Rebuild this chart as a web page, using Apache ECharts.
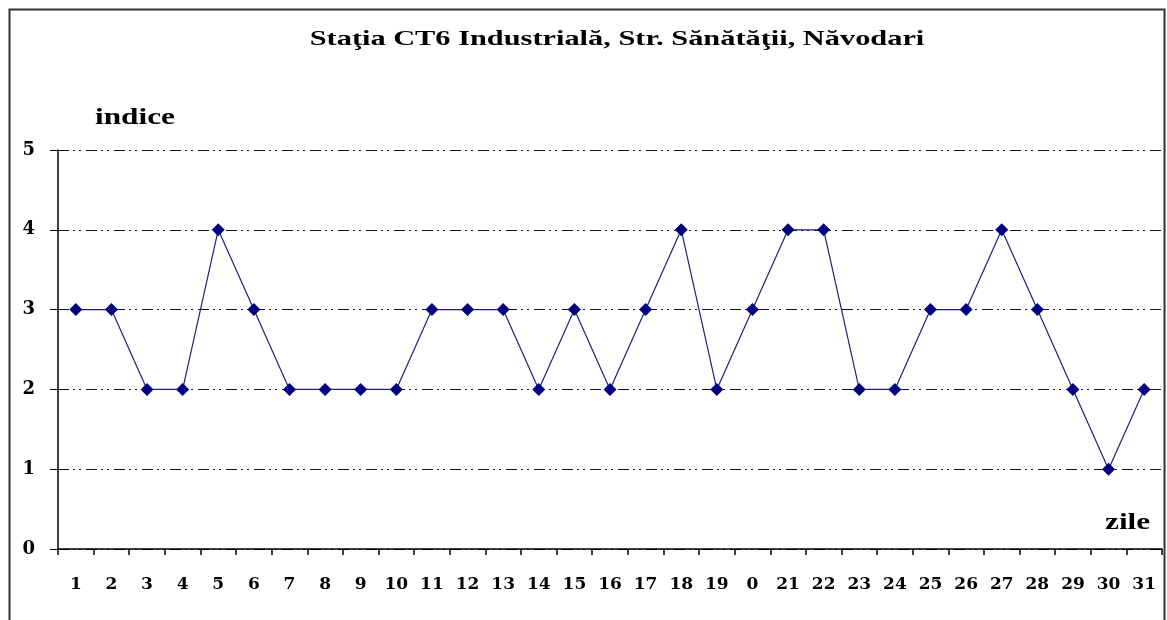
<!DOCTYPE html>
<html>
<head>
<meta charset="utf-8">
<script src="https://cdn.jsdelivr.net/npm/echarts@6/dist/echarts.min.js"></script>
<style>html,body{margin:0;padding:0;background:#fff}#c{width:1167px;height:620px}</style>
</head>
<body>
<div id="c"></div>
<script>
const categories = ['1','2','3','4','5','6','7','8','9','10','11','12','13','14','15','16','17','18','19','0','21','22','23','24','25','26','27','28','29','30','31'];
const values = [3,3,2,2,4,3,2,2,2,2,3,3,3,2,3,2,3,4,2,3,4,4,2,2,3,3,4,3,2,1,2];
const yTicks = [0,1,2,3,4,5];
const titleText = 'Staţia CT6 Industrială, Str. Sănătăţii, Năvodari';
const yName = 'indice';
const xName = 'zile';

const serif = '"Liberation Serif","DejaVu Serif",serif';
const wideSerif = '"DejaVu Serif","Liberation Serif",serif';
const chart = echarts.init(document.getElementById('c'));
chart.setOption({
  backgroundColor: '#fff',
  animation: false,
  grid: {left: 58, right: 5, top: 150, bottom: 71, containLabel: false},
  xAxis: {
    type: 'category',
    data: categories,
    boundaryGap: true,
    axisLine: {lineStyle: {color: '#000', width: 1.5}},
    axisTick: {show: true, length: 6, inside: false, lineStyle: {color: '#000', width: 1.5}},
    axisLabel: {margin: 27, fontFamily: wideSerif, fontWeight: 'bold', fontSize: 17, color: '#000'},
    splitLine: {show: false}
  },
  yAxis: {
    type: 'value',
    min: yTicks[0], max: yTicks[yTicks.length-1], interval: 1,
    axisLine: {show: true, lineStyle: {color: '#000', width: 1.5}},
    axisTick: {show: true, length: 8, lineStyle: {color: '#000', width: 1}},
    axisLabel: {margin: 23, fontFamily: wideSerif, fontWeight: 'bold', fontSize: 18, color: '#000'},
    splitLine: {show: true, lineStyle: {color: '#111', width: 1, type: [11,4,2,4,2,5]}}
  },
  graphic: [
    {type: 'rect', left: 7, top: 7, shape: {width: 1155, height: 630}, style: {fill: 'none', stroke: '#333', lineWidth: 2}, silent: true},
    {type: 'text', x: 617, y: 28, scaleX: 1.38, style: {text: titleText, align: 'center', verticalAlign: 'top', font: 'bold 22px ' + serif, fill: '#000'}},
    {type: 'text', x: 95, y: 107, scaleX: 1.36, style: {text: yName, verticalAlign: 'top', font: 'bold 23px ' + serif, fill: '#000'}},
    {type: 'text', x: 1105, y: 512, scaleX: 1.36, style: {text: xName, verticalAlign: 'top', font: 'bold 23px ' + serif, fill: '#000'}}
  ],
  series: [{
    type: 'line',
    data: values,
    symbol: 'diamond',
    symbolSize: 13,
    itemStyle: {color: '#000080'},
    lineStyle: {color: '#1f1f80', width: 1.2}
  }]
});
</script>
</body>
</html>
